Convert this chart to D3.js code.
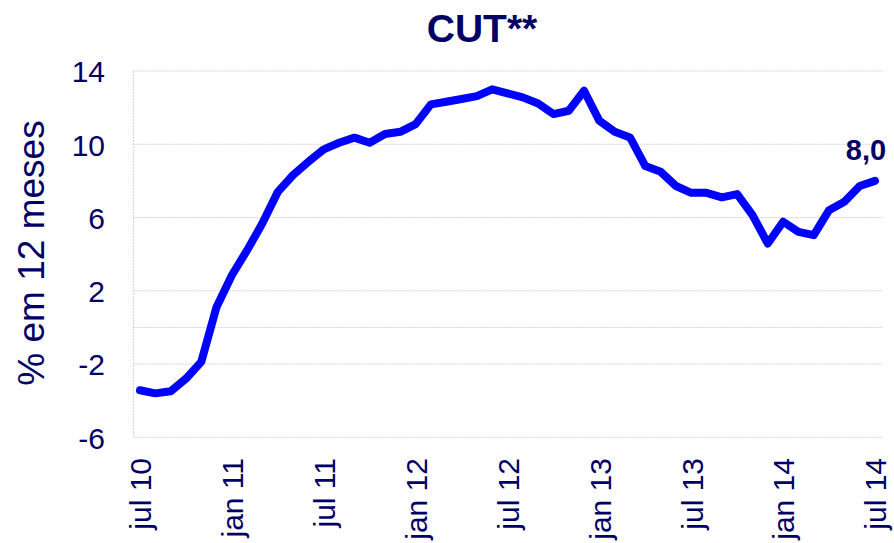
<!DOCTYPE html>
<html>
<head>
<meta charset="utf-8">
<script src="https://cdn.jsdelivr.net/npm/d3@7"></script>
<style>
  html, body { margin: 0; padding: 0; background: #ffffff; }
  svg { display: block; }
  text { font-family: "Liberation Sans", Arial, sans-serif; fill: #000066; }
</style>
</head>
<body>
<svg id="chart" width="894" height="543"></svg>
<script>
// CUT index, % change over 12 months, monthly from Jul 2010 to Jul 2014
const startMonth = new Date(2010, 6, 1);
const endMonth = new Date(2014, 6, 1);
const months = d3.timeMonth.range(startMonth, d3.timeMonth.offset(endMonth, 1));

const cutValues = [
  -3.43, -3.6, -3.49, -2.8, -1.88, 1.12, 2.85, 4.22, 5.7, 7.4, 8.32, 9.05,
  9.72, 10.08, 10.36, 10.08, 10.56, 10.68, 11.1, 12.18, 12.32, 12.47, 12.63, 13.0,
  12.78, 12.56, 12.23, 11.65, 11.83, 12.92, 11.28, 10.68, 10.37, 8.81, 8.5, 7.72,
  7.35, 7.35, 7.1, 7.28, 6.13, 4.58, 5.77, 5.22, 5.04, 6.4, 6.86, 7.72,
  8.0
];

const xTickLabels = ["jul 10", "jan 11", "jul 11", "jan 12", "jul 12", "jan 13", "jul 13", "jan 14", "jul 14"];
const yTicks = [14, 10, 6, 2, -2, -6];
const lastLabel = "8,0";

const data = months.map((m, i) => ({ month: m, value: cutValues[i] }));

const svg = d3.select("#chart");
const plotLeft = 133.5, plotRight = 883, plotTop = 71, plotBottom = 437.3;

const x = d3.scalePoint()
  .domain(d3.range(months.length))
  .range([140, 875]);

const y = d3.scaleLinear()
  .domain([-6, 14])
  .range([plotBottom, plotTop]);

// horizontal gridlines plus the zero line
const gridVals = yTicks.concat([0]);
svg.append("g")
  .selectAll("line")
  .data(gridVals)
  .join("line")
  .attr("x1", plotLeft).attr("x2", plotRight)
  .attr("y1", d => y(d)).attr("y2", d => y(d))
  .attr("stroke", "#d4d4d4")
  .attr("stroke-width", 1)
  .attr("stroke-dasharray", "2,1");

// vertical axis line
svg.append("line")
  .attr("x1", plotLeft).attr("x2", plotLeft)
  .attr("y1", y(14)).attr("y2", y(-6))
  .attr("stroke", "#d4d4d4")
  .attr("stroke-width", 1)
  .attr("stroke-dasharray", "2,1");

// y axis tick labels (plain hyphen for negatives)
const yAxis = d3.axisLeft(y)
  .tickValues(yTicks)
  .tickFormat(d => String(d))
  .tickSize(0)
  .tickPadding(0);
const gy = svg.append("g").attr("transform", "translate(105,0)").call(yAxis);
gy.select(".domain").remove();
gy.selectAll("text")
  .attr("fill", "#000066")
  .style("font-size", "30px")
  .attr("dy", "0.36em");

// x axis tick labels (rotated)
const labelIdx = xTickLabels.map((_, i) => i * 6);
const xAxis = d3.axisBottom(x)
  .tickValues(labelIdx)
  .tickFormat((d, i) => xTickLabels[i])
  .tickSize(0);
const gx = svg.append("g").attr("transform", "translate(0,458)").call(xAxis);
gx.select(".domain").remove();
gx.selectAll("text")
  .attr("fill", "#000066")
  .style("font-size", "30px")
  .attr("text-anchor", "end")
  .attr("transform", "rotate(-90)")
  .attr("x", 0)
  .attr("y", 0)
  .attr("dx", 0)
  .attr("dy", "0.36em");

// y axis title
svg.append("text")
  .attr("transform", "translate(44,253) rotate(-90)")
  .attr("text-anchor", "middle")
  .style("font-size", "37px")
  .text("% em 12 meses");

// title
svg.append("text")
  .attr("x", 482)
  .attr("y", 42)
  .attr("text-anchor", "middle")
  .style("font-size", "39px")
  .style("font-weight", "bold")
  .text("CUT**");

// series line
const line = d3.line()
  .x((d, i) => x(i))
  .y(d => y(d.value));

svg.append("path")
  .datum(data)
  .attr("d", line)
  .attr("fill", "none")
  .attr("stroke", "#0000ff")
  .attr("stroke-width", 8)
  .attr("stroke-linejoin", "round")
  .attr("stroke-linecap", "round");

// label on the latest value
const last = data[data.length - 1];
svg.append("text")
  .attr("x", x(data.length - 1) - 9)
  .attr("y", y(last.value) - 21)
  .attr("text-anchor", "middle")
  .style("font-size", "29px")
  .style("font-weight", "bold")
  .text(lastLabel);
</script>
</body>
</html>
